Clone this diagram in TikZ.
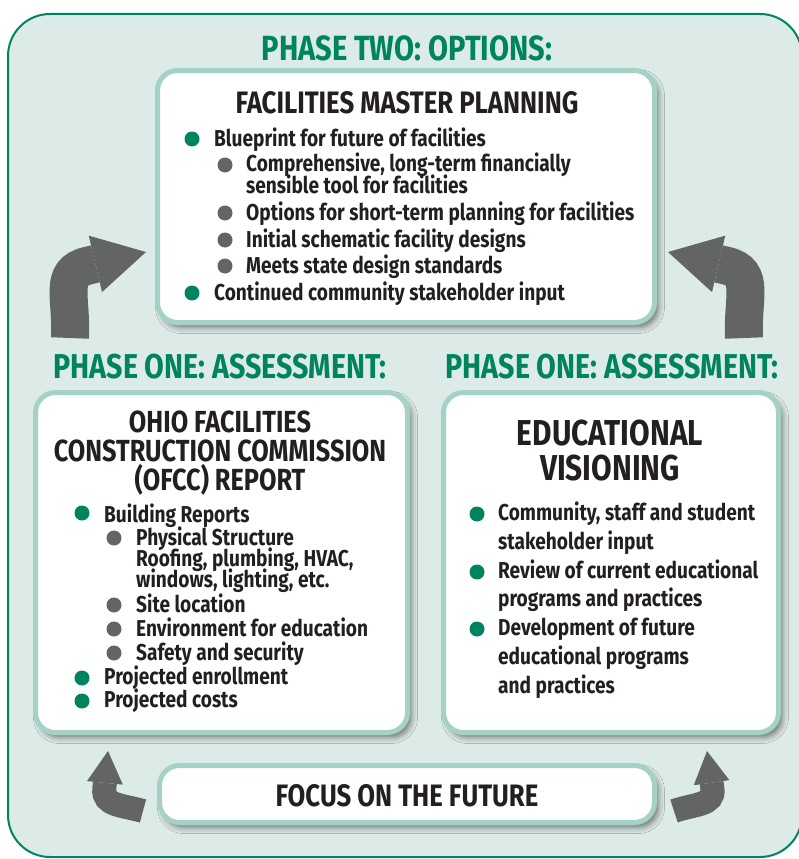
\documentclass[tikz,border=0pt]{standalone}
\usepackage{fontspec}
\setmainfont{Fira Sans}[FakeStretch=0.83]
\usetikzlibrary{arrows.meta,shadows.blur}

\definecolor{phasegreen}{HTML}{00845F}
\definecolor{panelbg}{HTML}{DDEBE8}
\definecolor{boxline}{HTML}{A6D1C6}
\definecolor{arrowgray}{HTML}{636466}
\definecolor{inkblack}{HTML}{231F20}

\tikzset{
  phasebox/.style={draw=boxline, line width=5pt, fill=white, rounded corners=20pt,
    blur shadow={shadow xshift=4pt, shadow yshift=-5pt, shadow blur radius=6pt, shadow opacity=50}},
  phasehead/.style={anchor=base, inner sep=0pt, text=phasegreen, font=\bfseries\fontsize{35}{37}\selectfont},
  boxtitle/.style={anchor=base, inner sep=0pt, text=inkblack, font=\bfseries\fontsize{31}{33}\selectfont},
  bigtitle/.style={anchor=base, inner sep=0pt, text=inkblack, font=\bfseries\fontsize{36}{38}\selectfont},
  item/.style={anchor=base west, inner sep=0pt, text=inkblack, font=\bfseries\fontsize{23}{25}\selectfont},
  gdot/.style={fill=phasegreen},
  kdot/.style={fill=arrowgray},
  turn/.style={draw=arrowgray, line width=38pt, -{Triangle[width=58pt,length=52pt,line width=0pt]}},
  smallturn/.style={draw=arrowgray, line width=24pt, -{Triangle[width=36pt,length=32pt,line width=0pt]}},
}

\begin{document}
\begin{tikzpicture}[x=1pt,y=-1pt]
\useasboundingbox (0,0) rectangle (799,859);
% background panel
\draw[draw=phasegreen, line width=2pt, fill=panelbg, rounded corners=42pt] (8,14) rectangle (802,857);

% the four boxes
\node[phasebox, minimum width=497pt, minimum height=252pt] (fmp) at (406,196.5) {};
\node[phasebox, minimum width=372pt, minimum height=340pt] (ofcc) at (221.5,562.5) {};
\node[phasebox, minimum width=335pt, minimum height=340pt] (vision) at (611,562.5) {};
\node[phasebox, minimum width=495pt, minimum height=57pt] (focus) at (407,794) {};

% headings
\node[phasehead] (head2) at (407,60) {PHASE TWO: OPTIONS:};
\node[phasehead, font=\bfseries\fontsize{34.5}{36}\selectfont] (head1l) at (220,378) {PHASE ONE: ASSESSMENT:};
\node[phasehead, font=\bfseries\fontsize{34.5}{36}\selectfont] (head1r) at (612,378) {PHASE ONE: ASSESSMENT:};

% phase two box
\node[boxtitle] (fmptitle) at (407,113) {FACILITIES MASTER PLANNING};
\fill[gdot] (192,139) circle [radius=7.5];
\node[item] (fmp1) at (214,146) {Blueprint for future of facilities};
\fill[kdot] (225,165) circle [radius=7.5];
\node[item] (fmp2) at (246,171) {Comprehensive, long-term financially};
\node[item] (fmp3) at (246,193) {sensible tool for facilities};
\fill[kdot] (225,213) circle [radius=7.5];
\node[item] (fmp4) at (246,220) {Options for short-term planning for facilities};
\fill[kdot] (225,240) circle [radius=7.5];
\node[item] (fmp5) at (246,247) {Initial schematic facility designs};
\fill[kdot] (225,266) circle [radius=7.5];
\node[item] (fmp6) at (246,273) {Meets state design standards};
\fill[gdot] (192,293) circle [radius=7.5];
\node[item] (fmp7) at (214,300) {Continued community stakeholder input};

% OFCC box
\node[boxtitle, font=\bfseries\fontsize{30.5}{32}\selectfont] (ofcct1) at (220,432) {OHIO FACILITIES};
\node[boxtitle, font=\bfseries\fontsize{30.5}{32}\selectfont] (ofcct2) at (220,461) {CONSTRUCTION COMMISSION};
\node[boxtitle, font=\bfseries\fontsize{30.5}{32}\selectfont] (ofcct3) at (220,490) {(OFCC) REPORT};
\fill[gdot] (82,513) circle [radius=7.5];
\node[item] (ofcc1) at (104,522) {Building Reports};
\fill[kdot] (114,538) circle [radius=7.5];
\node[item] (ofcc2) at (136,545) {Physical Structure};
\node[item] (ofcc3) at (136,566) {Roofing, plumbing, HVAC,};
\node[item] (ofcc4) at (136,587) {windows, lighting, etc.};
\fill[kdot] (114,605) circle [radius=7.5];
\node[item] (ofcc5) at (136,612) {Site location};
\fill[kdot] (114,629) circle [radius=7.5];
\node[item] (ofcc6) at (136,636) {Environment for education};
\fill[kdot] (114,653) circle [radius=7.5];
\node[item] (ofcc7) at (136,660) {Safety and security};
\fill[gdot] (82,678) circle [radius=7.5];
\node[item] (ofcc8) at (104,684) {Projected enrollment};
\fill[gdot] (82,701) circle [radius=7.5];
\node[item] (ofcc9) at (104,707) {Projected costs};

% visioning box
\node[bigtitle] (visiont1) at (610,445) {EDUCATIONAL};
\node[bigtitle] (visiont2) at (610,480) {VISIONING};
\fill[gdot] (477,514) circle [radius=7.5];
\node[item] (vision1) at (498,520) {Community, staff and student};
\node[item] (vision2) at (498,549) {stakeholder input};
\fill[gdot] (477,572) circle [radius=7.5];
\node[item] (vision3) at (498,578) {Review of current educational};
\node[item] (vision4) at (498,606) {programs and practices};
\fill[gdot] (477,629) circle [radius=7.5];
\node[item] (vision5) at (498,635) {Development of future};
\node[item] (vision6) at (498,664) {educational programs};
\node[item] (vision7) at (498,693) {and practices};

% bottom box
\node[boxtitle] (focustitle) at (407,806) {FOCUS ON THE FUTURE};

% turning arrows
\coordinate (tlfoot) at (70,338);
\coordinate (tlbend) at (87.6,265.7);
\coordinate (tltip) at (146,252);
\coordinate (trfoot) at (744,338);
\coordinate (trbend) at (726.4,265.7);
\coordinate (trtip) at (668,252);
\coordinate (blfoot) at (143,811);
\coordinate (blbend) at (104.3,788.8);
\coordinate (bltip) at (108,751);
\coordinate (brfoot) at (674,811);
\coordinate (brbend) at (712.4,788.6);
\coordinate (brtip) at (707,751);
\draw[turn] (tlfoot) .. controls (72,298) and (58.4,272.6) .. (tlbend) -- (tltip);
\draw[turn] (trfoot) .. controls (742,298) and (755.6,272.6) .. (trbend) -- (trtip);
\draw[smallturn] (blfoot) .. controls (122,805) and (102.7,805.7) .. (blbend) -- (bltip);
\draw[smallturn] (brfoot) .. controls (694,804) and (714.8,805.5) .. (brbend) -- (brtip);
\end{tikzpicture}
\end{document}
